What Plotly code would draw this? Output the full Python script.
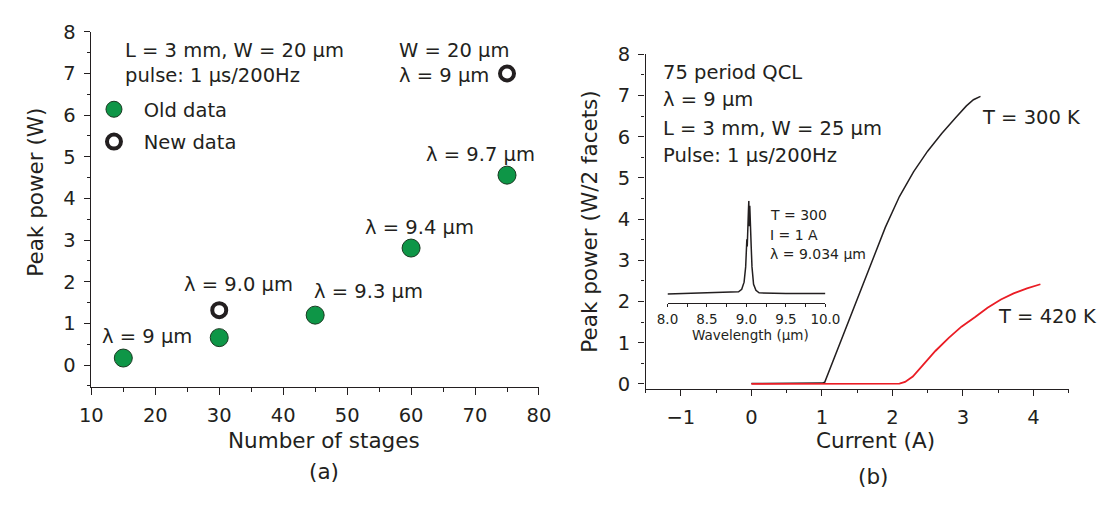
import plotly.graph_objects as go

W, H = 1120, 506
FONT = "DejaVu Sans"
INK = "#231f20"
GREEN = "#0e9647"
RED = "#ea1d25"

# ---------------- data: panel (a) ----------------
stages_old = [15, 30, 45, 60, 75]
power_old = [0.17, 0.66, 1.2, 2.81, 4.56]
stages_new = [30, 75]
power_new = [1.32, 7.0]

# ---------------- data: panel (b) ----------------
current_300 = [0.0, 0.5, 1.0, 1.04, 1.37, 1.71, 1.9, 2.1, 2.3, 2.5, 2.7, 2.9, 3.05, 3.15, 3.25]
power_300 = [0.01, 0.01, 0.02, 0.04, 1.47, 2.94, 3.8, 4.55, 5.15, 5.65, 6.08, 6.47, 6.75, 6.9, 6.98]

current_420 = [0.0, 1.0, 2.0, 2.1, 2.18, 2.29, 2.43, 2.61, 2.8, 2.98, 3.17, 3.35, 3.54, 3.72, 3.91, 4.1]
power_420 = [0.0, 0.0, 0.0, 0.01, 0.05, 0.18, 0.45, 0.8, 1.12, 1.39, 1.62, 1.85, 2.05, 2.2, 2.32, 2.42]

# ---------------- data: inset spectrum ----------------
wavelength = [8.0, 8.5, 8.9, 8.94, 8.97, 8.99, 9.0, 9.005, 9.01, 9.015, 9.02, 9.025, 9.03,
              9.032, 9.035, 9.038, 9.042, 9.046, 9.05, 9.055, 9.06, 9.07, 9.09, 9.12,
              9.16, 9.5, 10.0]
intensity = [0.085, 0.095, 0.105, 0.13, 0.2, 0.35, 0.5, 0.62, 0.55, 0.8, 0.7, 0.9, 1.0,
             0.75, 0.93, 0.85, 0.95, 0.78, 0.8, 0.62, 0.55, 0.35, 0.18, 0.12,
             0.095, 0.09, 0.088]

x_ticks_a = [10, 20, 30, 40, 50, 60, 70, 80]
y_ticks = [0, 1, 2, 3, 4, 5, 6, 7, 8]
x_ticks_b = [-1, 0, 1, 2, 3, 4]
x_ticks_inset = [8.0, 8.5, 9.0, 9.5, 10.0]


def px(x):
    return x / W


def py(y):
    return 1 - y / H


fig = go.Figure()

fig.add_trace(go.Scatter(
    x=stages_old, y=power_old, mode="markers", name="\u2002Old data",
    legendgroup="old",
    marker=dict(size=18, color=GREEN, line=dict(color="#1a3a22", width=1)),
    xaxis="x", yaxis="y"))
fig.add_trace(go.Scatter(
    x=stages_new, y=power_new, mode="markers", name="\u2002New data",
    legendgroup="new",
    marker=dict(size=14, color="white", line=dict(color=INK, width=4)),
    xaxis="x", yaxis="y"))

fig.add_trace(go.Scatter(
    x=current_300, y=power_300, mode="lines", showlegend=False,
    line=dict(color=INK, width=1.5), xaxis="x2", yaxis="y2"))
fig.add_trace(go.Scatter(
    x=current_420, y=power_420, mode="lines", showlegend=False,
    line=dict(color=RED, width=1.8), xaxis="x2", yaxis="y2"))

fig.add_trace(go.Scatter(
    x=wavelength, y=intensity, mode="lines", showlegend=False,
    line=dict(color=INK, width=1.5), xaxis="x3", yaxis="y3"))

tickfont = dict(family=FONT, size=19.5, color=INK)
axis_common = dict(
    showline=True, linecolor=INK, linewidth=1.3, showgrid=False, zeroline=False,
    ticks="outside", ticklen=6.5, tickwidth=1.2, tickcolor=INK, tickfont=tickfont,
    ticklabelstandoff=4,
)

fig.update_layout(
    width=W, height=H,
    margin=dict(l=0, r=0, t=0, b=0),
    paper_bgcolor="white", plot_bgcolor="rgba(0,0,0,0)",
    font=dict(family=FONT, color=INK),
    showlegend=True,
    legend=dict(
        x=px(84), y=py(82), xanchor="left", yanchor="top",
        bgcolor="rgba(0,0,0,0)", borderwidth=0, tracegroupgap=4,
        font=dict(family=FONT, size=19.5, color=INK),
    ),
    xaxis=dict(axis_common, domain=[px(81.3), px(540)], range=[10, 80],
               tickvals=x_ticks_a, anchor="y",
               minor=dict(dtick=5, ticklen=3.5, tickcolor=INK, ticks="outside")),
    yaxis=dict(axis_common, domain=[py(390), py(21.6)], range=[-0.528, 8],
               tickvals=y_ticks, anchor="x",
               minor=dict(dtick=0.5, ticklen=3.5, tickcolor=INK, ticks="outside")),
    xaxis2=dict(axis_common, domain=[px(649.3), px(1082.7)], range=[-1.5, 4.5],
                tickvals=x_ticks_b, ticktext=["\u22121", "0", "1", "2", "3", "4"],
                anchor="y2",
                minor=dict(dtick=0.5, ticklen=3.5, tickcolor=INK, ticks="outside")),
    yaxis2=dict(axis_common, domain=[py(391.7), py(45)], range=[-0.117, 8],
                tickvals=y_ticks, anchor="x2",
                minor=dict(dtick=0.5, ticklen=3.5, tickcolor=INK, ticks="outside")),
    xaxis3=dict(domain=[px(671.7), px(833.5)], range=[8, 10], anchor="y3",
                showline=True, linecolor=INK, linewidth=1, showgrid=False, zeroline=False,
                ticks="outside", ticklen=3, tickwidth=1, tickcolor=INK,
                tickvals=x_ticks_inset, ticktext=["8.0", "8.5", "9.0", "9.5", "10.0"],
                tickfont=dict(family=FONT, size=13.5, color=INK), ticklabelstandoff=1,
                minor=dict(dtick=0.25, ticklen=3, tickcolor=INK, ticks="outside")),
    yaxis3=dict(domain=[py(302.3), py(196.7)], range=[0, 1], anchor="x3",
                visible=False),
)

ann = []


def text(s, x, y, size=19.5, xanchor="left", angle=0):
    ann.append(dict(text=s, x=px(x), y=py(y), xref="paper", yref="paper",
                    xanchor=xanchor, yanchor="middle", showarrow=False,
                    align="left", textangle=angle,
                    font=dict(family=FONT, size=size, color=INK)))


# panel (a)
text("L = 3 mm, W = 20 \u03bcm<br>pulse: 1 \u03bcs/200Hz", 114, 54)
text("W = 20 \u03bcm<br>\u03bb = 9 \u03bcm", 395, 53.5)
text("\u03bb = 9.7 \u03bcm", 422, 148.3)
text("\u03bb = 9.4 \u03bcm", 359.5, 225)
text("\u03bb = 9.0 \u03bcm", 174, 283.3)
text("\u03bb = 9.3 \u03bcm", 307, 290.7)
text("\u03bb = 9 \u03bcm", 90, 337.3)
text("Number of stages", 319.5, 445, size=21.5, xanchor="center")
text("(a)", 320, 477.5, size=21.5, xanchor="center")
text("Peak power (W)", 24, 188, size=21.5, xanchor="center", angle=-90)

# panel (b)
text("75 period QCL", 665.5, 63.3)
text("\u03bb = 9 \u03bcm", 665.5, 91.7)
text("L = 3 mm, W = 25 \u03bcm", 665.5, 121.7)
text("Pulse: 1 \u03bcs/200Hz", 665.5, 150)
text("T = 300 K", 992, 110)
text("T = 420 K", 1008, 316.7)
text("Current (A)", 885, 445, size=21.5, xanchor="center")
text("(b)", 882, 483, size=21.5, xanchor="center")
text("Peak power (W/2 facets)", 591.4, 218.3, size=21.5, xanchor="center", angle=-90)

# inset
text("T = 300", 775, 212, size=14)
text("I = 1 A", 775, 232, size=14)
text("\u03bb = 9.034 \u03bcm", 775, 252, size=14)
text("Wavelength (\u03bcm)", 757, 336, size=13.5, xanchor="center")

fig.update_layout(annotations=ann)

fig.write_html("out.html")
